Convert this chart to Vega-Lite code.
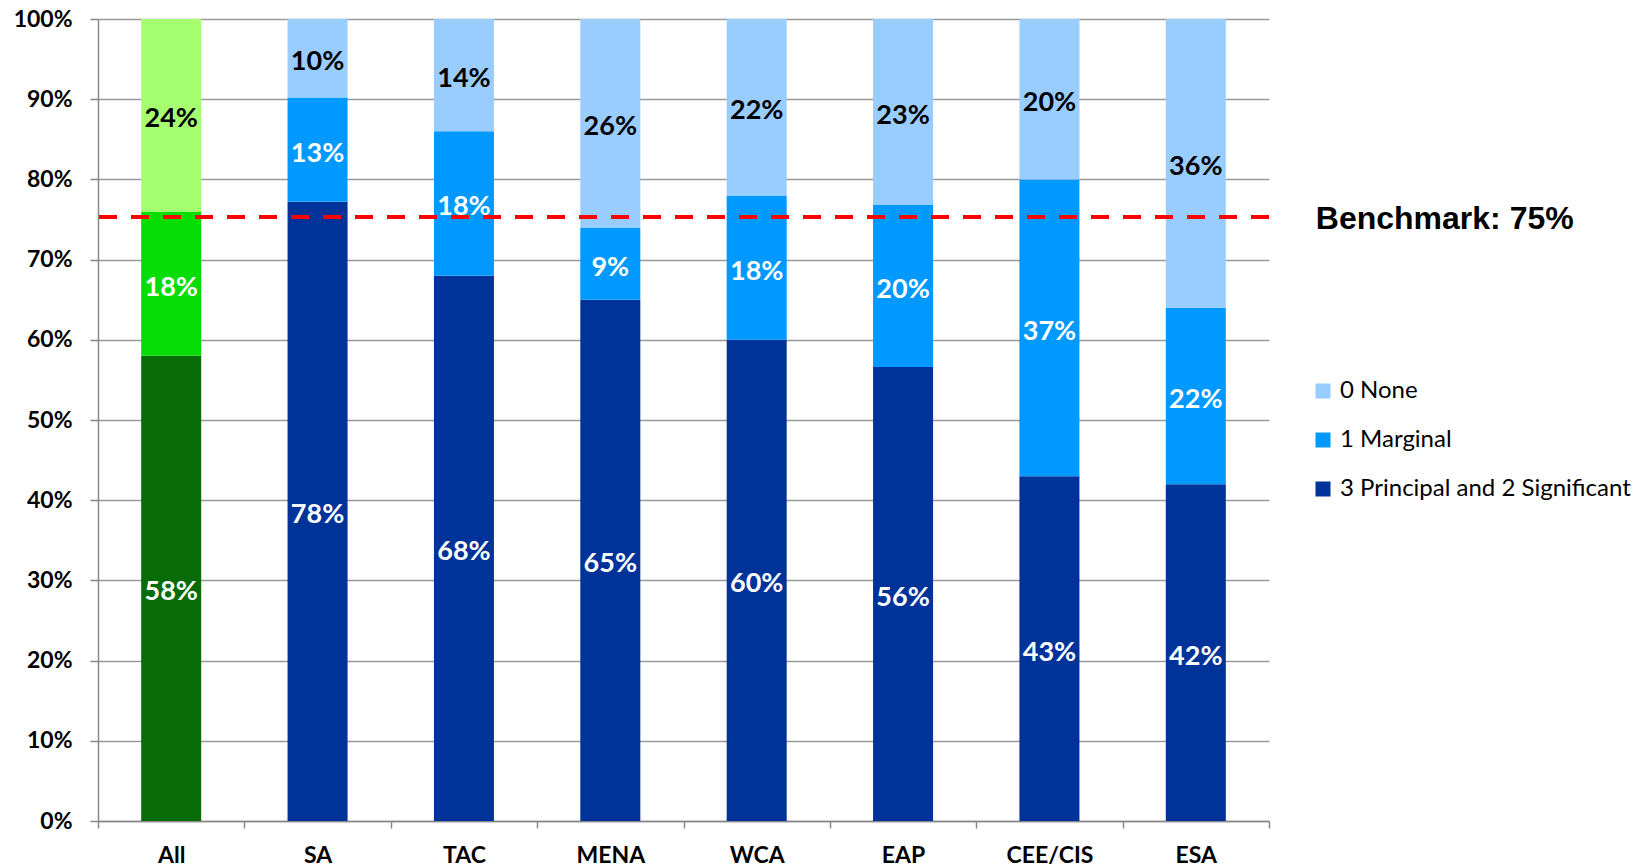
{
  "$schema": "https://vega.github.io/schema/vega-lite/v6.json",
  "width": 1171,
  "height": 802,
  "autosize": "none",
  "padding": {"left": 98, "top": 19, "right": 380, "bottom": 45},
  "background": "white",
  "config": {"view": {"stroke": null}, "font": "Lato"},
  "data": {
    "values": [
      {"region": "All", "level": "All 3 Principal and 2 Significant", "value": 58, "label": "58%", "rank": 1},
      {"region": "All", "level": "All 1 Marginal", "value": 18, "label": "18%", "rank": 2},
      {"region": "All", "level": "All 0 None", "value": 24, "label": "24%", "rank": 3},
      {"region": "SA", "level": "3 Principal and 2 Significant", "value": 77.2, "label": "78%", "rank": 1},
      {"region": "SA", "level": "1 Marginal", "value": 13, "label": "13%", "rank": 2},
      {"region": "SA", "level": "0 None", "value": 9.8, "label": "10%", "rank": 3},
      {"region": "TAC", "level": "3 Principal and 2 Significant", "value": 68, "label": "68%", "rank": 1},
      {"region": "TAC", "level": "1 Marginal", "value": 18, "label": "18%", "rank": 2},
      {"region": "TAC", "level": "0 None", "value": 14, "label": "14%", "rank": 3},
      {"region": "MENA", "level": "3 Principal and 2 Significant", "value": 65, "label": "65%", "rank": 1},
      {"region": "MENA", "level": "1 Marginal", "value": 9, "label": "9%", "rank": 2},
      {"region": "MENA", "level": "0 None", "value": 26, "label": "26%", "rank": 3},
      {"region": "WCA", "level": "3 Principal and 2 Significant", "value": 60, "label": "60%", "rank": 1},
      {"region": "WCA", "level": "1 Marginal", "value": 18, "label": "18%", "rank": 2},
      {"region": "WCA", "level": "0 None", "value": 22, "label": "22%", "rank": 3},
      {"region": "EAP", "level": "3 Principal and 2 Significant", "value": 56.6, "label": "56%", "rank": 1},
      {"region": "EAP", "level": "1 Marginal", "value": 20.2, "label": "20%", "rank": 2},
      {"region": "EAP", "level": "0 None", "value": 23.2, "label": "23%", "rank": 3},
      {"region": "CEE/CIS", "level": "3 Principal and 2 Significant", "value": 43, "label": "43%", "rank": 1},
      {"region": "CEE/CIS", "level": "1 Marginal", "value": 37, "label": "37%", "rank": 2},
      {"region": "CEE/CIS", "level": "0 None", "value": 20, "label": "20%", "rank": 3},
      {"region": "ESA", "level": "3 Principal and 2 Significant", "value": 42, "label": "42%", "rank": 1},
      {"region": "ESA", "level": "1 Marginal", "value": 22, "label": "22%", "rank": 2},
      {"region": "ESA", "level": "0 None", "value": 36, "label": "36%", "rank": 3}
    ]
  },
  "layer": [
    {
      "mark": {"type": "bar", "width": {"band": 0.41}},
      "encoding": {
        "x": {
          "field": "region", "type": "nominal",
          "sort": ["All", "SA", "TAC", "MENA", "WCA", "EAP", "CEE/CIS", "ESA"],
          "scale": {"paddingInner": 0, "paddingOuter": 0},
          "axis": {
            "title": null, "labelAngle": 0, "labelFont": "Lato", "labelFontSize": 23, "labelFontWeight": "bold",
            "labelColor": "black", "tickBand": "extent", "tickSize": 7, "tickColor": "#888888", "tickWidth": 1.5,
            "domainColor": "#888888", "domainWidth": 1.5, "labelPadding": 16, "grid": false
          }
        },
        "y": {
          "field": "value", "type": "quantitative", "stack": "zero",
          "scale": {"domain": [0, 100]},
          "axis": {
            "title": null, "values": [0, 10, 20, 30, 40, 50, 60, 70, 80, 90, 100],
            "labelExpr": "datum.value + '%'", "labelFont": "Lato", "labelFontSize": 23, "labelFontWeight": "bold",
            "labelColor": "black", "tickSize": 8, "tickColor": "#888888", "tickWidth": 1.5, "labelPadding": 18,
            "domainColor": "#888888", "domainWidth": 1.5, "grid": true, "gridColor": "#999999", "gridWidth": 1.5
          }
        },
        "color": {
          "field": "level", "type": "nominal",
          "scale": {
            "domain": ["0 None", "1 Marginal", "3 Principal and 2 Significant", "All 0 None", "All 1 Marginal", "All 3 Principal and 2 Significant"],
            "range": ["#99CCFF", "#0099FF", "#003399", "#A6FF6F", "#05DD05", "#076B07"]
          },
          "legend": {
            "values": ["0 None", "1 Marginal", "3 Principal and 2 Significant"],
            "orient": "none", "legendX": 1213, "legendY": 360, "title": null, "padding": 0,
            "symbolType": "square", "symbolSize": 225, "symbolStrokeWidth": 0, "symbolOpacity": 1,
            "labelFont": "Lato", "labelFontSize": 24, "labelColor": "black", "rowPadding": 25, "labelOffset": 5,
            "labelLimit": 0
          }
        },
        "order": {"field": "rank", "type": "quantitative"}
      }
    },
    {
      "data": {"values": [{"benchmark": 75.3}]},
      "mark": {"type": "rule", "color": "#FF0000", "strokeWidth": 4, "strokeDash": [18, 14]},
      "encoding": {"y": {"field": "benchmark", "type": "quantitative"}}
    },
    {
      "data": {"values": [{"region": "ESA", "benchmark": 75.3, "note": "Benchmark: 75%"}]},
      "mark": {"type": "text", "align": "left", "baseline": "middle", "dx": 120, "dy": 2, "font": "Liberation Sans", "fontWeight": "bold", "fontSize": 32, "color": "black"},
      "encoding": {
        "x": {"field": "region", "type": "nominal", "sort": ["All", "SA", "TAC", "MENA", "WCA", "EAP", "CEE/CIS", "ESA"]},
        "y": {"field": "benchmark", "type": "quantitative"},
        "text": {"field": "note"}
      }
    },
    {
      "transform": [
        {"stack": "value", "groupby": ["region"], "sort": [{"field": "rank", "order": "ascending"}], "as": ["y0", "y1"]},
        {"fold": ["y0", "y1"], "as": ["edge", "pos"]},
        {"aggregate": [{"op": "mean", "field": "pos", "as": "mid"}], "groupby": ["region", "level", "label", "rank"]}
      ],
      "mark": {"type": "text", "baseline": "middle", "align": "center", "dy": 4, "font": "Lato", "fontWeight": "bold", "fontSize": 27},
      "encoding": {
        "x": {"field": "region", "type": "nominal", "sort": ["All", "SA", "TAC", "MENA", "WCA", "EAP", "CEE/CIS", "ESA"]},
        "y": {"field": "mid", "type": "quantitative"},
        "text": {"field": "label"},
        "color": {"condition": {"test": "datum.rank == 3", "value": "black"}, "value": "white"}
      }
    }
  ]
}
